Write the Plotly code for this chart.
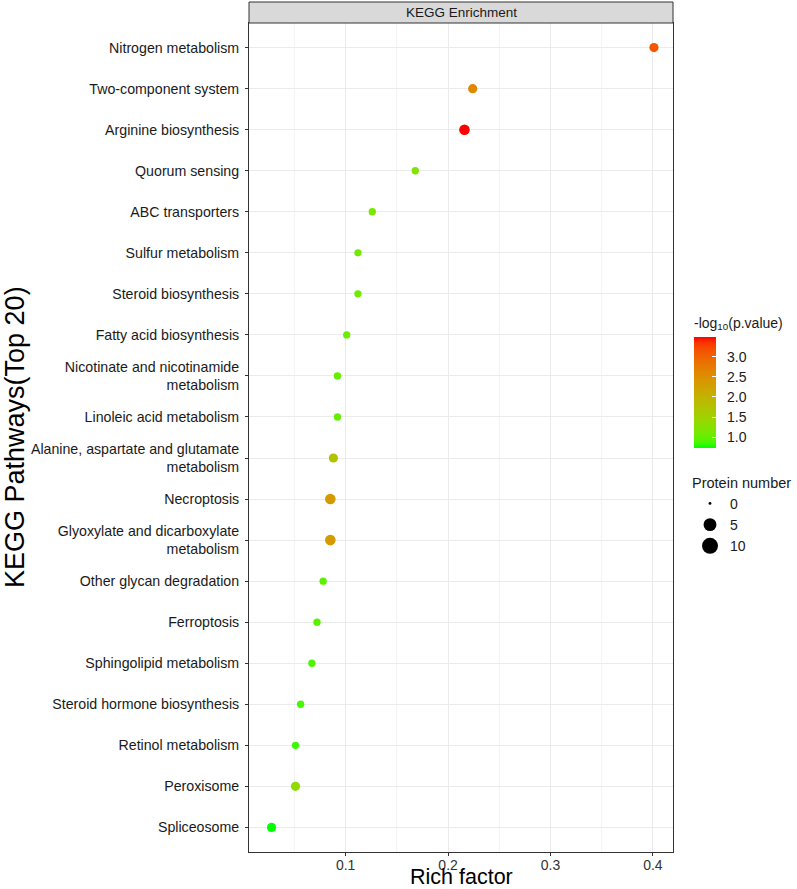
import numpy as np
import plotly.graph_objects as go

pathways = [
    "Nitrogen metabolism",
    "Two-component system",
    "Arginine biosynthesis",
    "Quorum sensing",
    "ABC transporters",
    "Sulfur metabolism",
    "Steroid biosynthesis",
    "Fatty acid biosynthesis",
    "Nicotinate and nicotinamide<br>metabolism",
    "Linoleic acid metabolism",
    "Alanine, aspartate and glutamate<br>metabolism",
    "Necroptosis",
    "Glyoxylate and dicarboxylate<br>metabolism",
    "Other glycan degradation",
    "Ferroptosis",
    "Sphingolipid metabolism",
    "Steroid hormone biosynthesis",
    "Retinol metabolism",
    "Peroxisome",
    "Spliceosome",
]
rich_factor = [0.401, 0.224, 0.216, 0.168, 0.126, 0.112, 0.112, 0.101, 0.092, 0.092,
               0.088, 0.085, 0.085, 0.078, 0.072, 0.067, 0.056, 0.051, 0.051, 0.0276]
neg_log10_p = [3.10, 2.60, 3.49, 1.20, 1.15, 1.08, 1.08, 1.05, 1.00, 1.00,
               1.75, 2.35, 2.35, 0.95, 0.93, 0.90, 0.86, 0.84, 1.35, 0.73]
protein_number = [2, 2, 3, 1, 1, 1, 1, 1, 1, 1, 2, 3, 3, 1, 1, 1, 1, 1, 2, 2]
size_breaks = [0, 5, 10]
x_ticks = [0.1, 0.2, 0.3, 0.4]
x_tick_labels = ["0.1", "0.2", "0.3", "0.4"]
cbar_ticks = [1.0, 1.5, 2.0, 2.5, 3.0]


# ---- ggplot-like Lab gradient green -> red ----
def _srgb_to_lab(h):
    rgb = np.array([int(h[i:i + 2], 16) for i in (1, 3, 5)]) / 255.0
    lin = np.where(rgb <= 0.04045, rgb / 12.92, ((rgb + 0.055) / 1.055) ** 2.4)
    M = np.array([[0.4124, 0.3576, 0.1805], [0.2126, 0.7152, 0.0722], [0.0193, 0.1192, 0.9505]])
    xyz = M @ lin / np.array([0.95047, 1.0, 1.08883])
    f = np.where(xyz > 0.008856, np.cbrt(xyz), 7.787 * xyz + 16 / 116)
    return np.array([116 * f[1] - 16, 500 * (f[0] - f[1]), 200 * (f[1] - f[2])])


def _lab_to_hex(lab):
    L, a, b = lab
    fy = (L + 16) / 116
    fx = fy + a / 500
    fz = fy - b / 200
    f = np.array([fx, fy, fz])
    xyz = np.where(f ** 3 > 0.008856, f ** 3, (f - 16 / 116) / 7.787) * np.array([0.95047, 1.0, 1.08883])
    Mi = np.array([[3.2406, -1.5372, -0.4986], [-0.9689, 1.8758, 0.0415], [0.0557, -0.2040, 1.0570]])
    lin = Mi @ xyz
    rgb = np.where(lin <= 0.0031308, 12.92 * lin, 1.055 * np.clip(lin, 0, None) ** (1 / 2.4) - 0.055)
    rgb = np.clip(np.round(rgb * 255), 0, 255).astype(int)
    return "#%02x%02x%02x" % tuple(rgb)


lo, hi = _srgb_to_lab("#00FF00"), _srgb_to_lab("#FF0000")
colorscale = [[t, _lab_to_hex(lo + (hi - lo) * t)] for t in np.linspace(0, 1, 21)]


def size_px(n, nmax=10):
    return 2.84 * (1 + 5 * np.sqrt(np.asarray(n, dtype=float) / nmax))


FONT = "Liberation Sans, Arial, sans-serif"
PLOT_H = 829.0  # px height of panel (23..852)
PLOT_W = 424.0  # px width of panel (249..673)

fig = go.Figure()
fig.add_trace(go.Scatter(
    x=rich_factor, y=pathways, mode="markers", showlegend=False,
    marker=dict(
        size=size_px(protein_number), color=neg_log10_p, colorscale=colorscale,
        cmin=min(neg_log10_p), cmax=max(neg_log10_p), line=dict(width=0), opacity=1,
        colorbar=dict(
            title=dict(text="-log<sub>10</sub>(p.value)", side="top", font=dict(size=14, color="#1a1a1a")),
            xref="paper", x=(694 - 249) / PLOT_W, xanchor="left",
            yref="paper", y=(852 - 448) / PLOT_H, yanchor="bottom",
            lenmode="pixels", len=134, thickness=22, outlinewidth=0,
            tickvals=cbar_ticks, ticktext=["  %.1f" % v for v in cbar_ticks],
            ticks="inside", ticklen=4, tickcolor="white", tickwidth=1,
            tickfont=dict(size=14, color="#1a1a1a"), xpad=0, ypad=0,
        ),
    ),
))
for b in size_breaks:
    fig.add_trace(go.Scatter(
        x=[None], y=[None], mode="markers", name=str(b), showlegend=True,
        marker=dict(size=float(size_px(b)), color="black", line=dict(width=0)),
    ))

fig.update_layout(
    width=797, height=889,
    margin=dict(l=249, r=124, t=23, b=37, autoexpand=False),
    paper_bgcolor="white", plot_bgcolor="white",
    font=dict(family=FONT, size=14, color="#1a1a1a"),
    legend=dict(
        title=dict(text="Protein number", font=dict(size=14.5)),
        x=(690 - 249) / PLOT_W, xanchor="left", y=(852 - 469) / PLOT_H, yanchor="top",
        itemsizing="trace", itemwidth=30, font=dict(size=14),
        bgcolor="rgba(0,0,0,0)", tracegroupgap=0,
    ),
    xaxis=dict(
        range=[0.0056, 0.4196], tickvals=x_ticks, ticktext=x_tick_labels,
        showgrid=True, gridcolor="#EBEBEB", gridwidth=1,
        minor=dict(tick0=0.05, dtick=0.1, showgrid=True, gridcolor="#F4F4F4", gridwidth=1, ticks=""),
        showline=True, mirror=True, linecolor="#333333", linewidth=1,
        ticks="outside", ticklen=3, tickcolor="#333333", tickwidth=1,
        ticklabelstandoff=-3,
        tickfont=dict(size=14, color="#333333"), zeroline=False,
    ),
    yaxis=dict(
        type="category", categoryorder="array", categoryarray=pathways[::-1],
        range=[-0.6, len(pathways) - 0.4],
        showgrid=True, gridcolor="#EBEBEB", gridwidth=1,
        showline=True, mirror=True, linecolor="#333333", linewidth=1,
        ticks="outside", ticklen=3, tickcolor="#333333", tickwidth=1,
        ticklabelstandoff=3,
        tickfont=dict(size=14.2, color="#1a1a1a"), zeroline=False,
    ),
    shapes=[dict(
        type="rect", xref="paper", yref="paper", x0=0, x1=1, y0=1, y1=1 + 21 / PLOT_H,
        fillcolor="#D9D9D9", line=dict(color="#333333", width=1), layer="above",
    )],
    annotations=[
        dict(text="KEGG Enrichment", xref="paper", yref="paper", x=0.5, y=1 + 10.5 / PLOT_H,
             xanchor="center", yanchor="middle", showarrow=False, font=dict(size=13.5, color="#1a1a1a")),
        dict(text="Rich factor", xref="paper", yref="paper", x=0.5, y=-(891 - 852) / PLOT_H,
             xanchor="center", yanchor="bottom", showarrow=False, font=dict(size=21.5, color="#000000")),
        dict(text="KEGG Pathways(Top 20)", xref="paper", yref="paper", x=-(249 - 15) / PLOT_W, y=0.5006,
             xanchor="center", yanchor="middle", textangle=-90, showarrow=False,
             font=dict(size=27, color="#000000")),
    ],
)

fig.write_html("out.html")
